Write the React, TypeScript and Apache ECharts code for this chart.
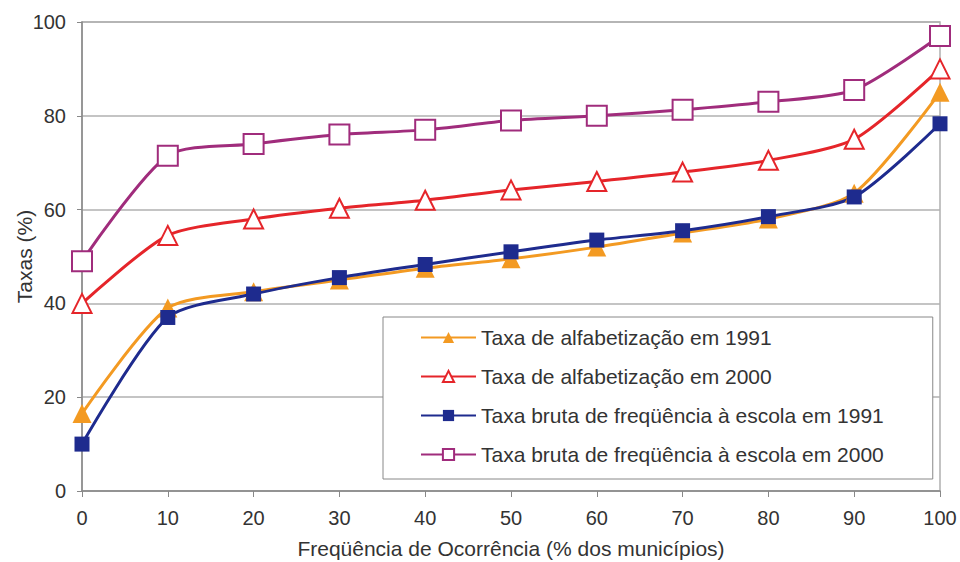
import React, { useEffect, useRef } from "react";
import * as echarts from "echarts";

const xValues = [0, 10, 20, 30, 40, 50, 60, 70, 80, 90, 100];
const seriesNames = [
  "Taxa de alfabetização em 1991",
  "Taxa de alfabetização em 2000",
  "Taxa bruta de freqüência à escola em 1991",
  "Taxa bruta de freqüência à escola em 2000",
];
const alfab1991 = [16.5, 39, 42.5, 45, 47.5, 49.5, 52, 55, 58, 63.5, 85];
const alfab2000 = [40, 54.5, 58, 60.3, 62, 64.2, 66, 68, 70.5, 75, 90];
const freq1991 = [10, 37, 42, 45.5, 48.3, 51, 53.5, 55.5, 58.5, 62.7, 78.3];
const freq2000 = [49, 71.5, 74, 76, 77, 79, 80, 81.3, 83, 85.5, 97];
const yTicks = [0, 20, 40, 60, 80, 100];
const xAxisName = "Freqüência de Ocorrência (% dos municípios)";
const yAxisName = "Taxas (%)";

const FONT = "Liberation Sans, Arial, sans-serif";

export default function App() {
  const ref = useRef<HTMLDivElement>(null);
  useEffect(() => {
    if (!ref.current) return;
    const chart = echarts.init(ref.current, undefined, { renderer: "svg" });
    const pair = (arr: number[]) => xValues.map((x, i) => [x, arr[i]]);
    const mk = (
      name: string,
      data: number[],
      color: string,
      symbol: string,
      size: number,
      hollow: boolean
    ) => ({
      name,
      type: "line",
      data: pair(data),
      smooth: 0.25,
      symbol,
      symbolSize: size,
      showAllSymbol: true,
      lineStyle: { color, width: 3 },
      itemStyle: hollow
        ? { color: "#ffffff", borderColor: color, borderWidth: 2 }
        : { color, borderColor: color, borderWidth: 0 },
      color,
      z: 2,
    });
    chart.setOption({
      animation: false,
      backgroundColor: "#ffffff",
      textStyle: { fontFamily: FONT },
      grid: {
        left: 82,
        right: 20,
        top: 22,
        bottom: 71,
        containLabel: false,
        outerBoundsMode: "none",
        show: true,
        borderColor: "#b0b0b0",
        borderWidth: 1.5,
      },
      xAxis: {
        type: "value",
        min: 0,
        max: 100,
        interval: 10,
        name: xAxisName,
        nameLocation: "middle",
        nameGap: 47,
        nameMoveOverlap: false,
        nameTextStyle: { fontSize: 21, color: "#333", fontFamily: FONT },
        axisLine: { show: true, lineStyle: { color: "#888", width: 1.5 } },
        axisTick: { show: true, length: 6, inside: false, lineStyle: { color: "#888" } },
        axisLabel: { fontSize: 20, color: "#333", margin: 17, fontFamily: FONT },
        splitLine: { show: false },
      },
      yAxis: {
        type: "value",
        min: 0,
        max: 100,
        interval: 20,
        name: yAxisName,
        nameLocation: "middle",
        nameGap: 47,
        nameMoveOverlap: false,
        nameRotate: 90,
        nameTextStyle: { fontSize: 21, color: "#333", fontFamily: FONT },
        axisLine: { show: true, lineStyle: { color: "#888", width: 1.5 } },
        axisTick: { show: true, length: 5, lineStyle: { color: "#888" } },
        axisLabel: {
          fontSize: 20,
          color: "#333",
          margin: 16,
          fontFamily: FONT,
          formatter: (v: number) => (yTicks.includes(v) ? String(v) : ""),
        },
        splitLine: { show: true, lineStyle: { color: "#b0b0b0", width: 1.5 } },
      },
      legend: {
        orient: "vertical",
        left: 383,
        top: 317,
        padding: [10, 49, 14, 37],
        itemGap: 18,
        itemWidth: 55,
        itemHeight: 14,
        backgroundColor: "#ffffff",
        borderColor: "#888",
        borderWidth: 1,
        textStyle: { fontSize: 21, color: "#333", fontFamily: FONT },
        data: seriesNames,
      },
      series: [
        mk(seriesNames[0], alfab1991, "#F39A22", "triangle", 19, false),
        mk(seriesNames[1], alfab2000, "#E5252A", "triangle", 19, true),
        mk(seriesNames[2], freq1991, "#1E2B8E", "rect", 15, false),
        mk(seriesNames[3], freq2000, "#A02C7C", "rect", 20, true),
      ],
    });
    return () => chart.dispose();
  }, []);
  return (
    <div
      ref={ref}
      style={{ position: "fixed", left: 0, top: 0, width: 960, height: 562 }}
    />
  );
}
